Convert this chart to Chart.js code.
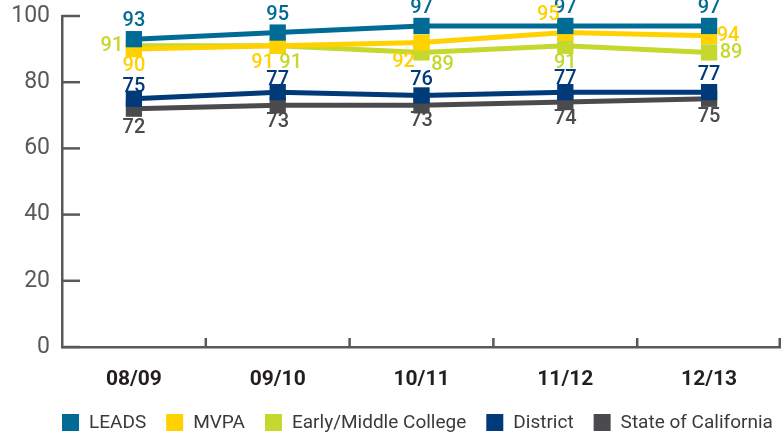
<!DOCTYPE html>
<html><head><meta charset="utf-8">
<script src="https://cdn.jsdelivr.net/npm/chart.js@4/dist/chart.umd.min.js"></script>
<style>html,body{margin:0;padding:0;background:#fff;}#wrap{width:781px;height:436px;}</style>
</head><body><div id="wrap"><canvas id="c" width="781" height="436"></canvas></div>
<script>
const categories = ['08/09', '09/10', '10/11', '11/12', '12/13'];
const seriesNames = ['LEADS', 'MVPA', 'Early/Middle College', 'District', 'State of California'];
const leads = [93, 95, 97, 97, 97];
const mvpa = [90, 91, 92, 95, 94];
const earlyMiddle = [91, 91, 89, 91, 89];
const district = [75, 77, 76, 77, 77];
const stateCA = [72, 73, 73, 74, 75];
const yTickValues = [0, 20, 40, 60, 80, 100];

const seriesColors = ['#006b94', '#ffd100', '#c4d82e', '#003a78', '#4b4b4d'];
// label placement (pixel offsets from each point), styling only
const labelOffsets = [
  [[0,-18],[0,-18],[0,-18],[0,-18],[0,-18]],
  [[0,17],[-15,17],[-18,20],[-17,-18],[19,0]],
  [[-22,0],[13,17],[21,13],[0,17],[22,1]],
  [[0,-12],[0,-12],[0,-15],[0,-13],[0,-17]],
  [[0,19],[0,17],[0,16],[0,17],[0,18]]
];
const FONT = "Roboto, 'Liberation Sans', sans-serif";
const axisColor = '#58595b';

const seriesValues = [leads, mvpa, earlyMiddle, district, stateCA];

const decorPlugin = {
  id: 'decor',
  beforeDatasetsDraw(chart) {
    const {ctx, chartArea, scales} = chart;
    ctx.save();
    ctx.strokeStyle = axisColor;
    ctx.lineWidth = 2.5;
    yTickValues.forEach(v => {
      const y = scales.y.getPixelForValue(v);
      ctx.beginPath();
      ctx.moveTo(chartArea.left, y);
      ctx.lineTo(chartArea.left + 18, y);
      ctx.stroke();
    });
    const n = categories.length;
    const step = scales.x.getPixelForValue(1) - scales.x.getPixelForValue(0);
    for (let i = 1; i <= n; i++) {
      const x = scales.x.getPixelForValue(i - 1) + step / 2;
      const xx = Math.min(x, chart.width - 1.25);
      ctx.beginPath();
      ctx.moveTo(xx, chartArea.bottom);
      ctx.lineTo(xx, chartArea.bottom - 9);
      ctx.stroke();
    }
    ctx.restore();
  },
  afterDatasetsDraw(chart) {
    const {ctx} = chart;
    ctx.save();
    ctx.font = '500 20px ' + FONT;
    ctx.textAlign = 'center';
    ctx.textBaseline = 'middle';
    chart.data.datasets.forEach((ds, di) => {
      const meta = chart.getDatasetMeta(di);
      ctx.fillStyle = ds.borderColor;
      meta.data.forEach((pt, i) => {
        const off = labelOffsets[di][i];
        ctx.fillText(String(ds.data[i]), pt.x + off[0], pt.y + off[1]);
      });
    });
    ctx.restore();
  },
  afterDraw(chart) {
    const {ctx} = chart;
    ctx.save();
    ctx.font = '19px ' + FONT;
    ctx.textBaseline = 'middle';
    ctx.textAlign = 'left';
    let x = chart.chartArea.left;
    const y = 422.5;
    chart.data.datasets.forEach(ds => {
      ctx.fillStyle = ds.borderColor;
      ctx.fillRect(x, y - 8.5, 17, 17);
      ctx.fillStyle = '#3a3a3c';
      ctx.fillText(ds.label, x + 27, y + 1);
      x += 27 + ctx.measureText(ds.label).width + 20;
    });
    ctx.restore();
  }
};

new Chart(document.getElementById('c'), {
  type: 'line',
  data: {
    labels: categories,
    datasets: seriesNames.map((name, i) => ({
      label: name,
      data: seriesValues[i],
      borderColor: seriesColors[i],
      backgroundColor: seriesColors[i],
      borderWidth: 5,
      pointStyle: 'rect',
      pointRadius: 11.5,
      pointHoverRadius: 11.5,
      pointBorderWidth: 0,
      tension: 0,
      clip: false
    }))
  },
  options: {
    responsive: false,
    devicePixelRatio: 1,
    animation: false,
    events: [],
    layout: {autoPadding: false, padding: {top: 16, right: 0, left: 0, bottom: 0}},
    plugins: {legend: {display: false}, tooltip: {enabled: false}},
    scales: {
      x: {
        offset: true,
        grid: {display: true, drawOnChartArea: false, drawTicks: false},
        border: {display: true, color: axisColor, width: 2.5},
        ticks: {padding: 20, color: '#231f20', font: {family: FONT, size: 21, weight: 'bold'}},
        afterFit(s) { s.height = 89; s.paddingLeft = 0; s.paddingRight = 0; }
      },
      y: {
        min: 0, max: 100,
        grid: {display: true, drawOnChartArea: false, drawTicks: false},
        border: {display: true, color: axisColor, width: 2.5},
        afterBuildTicks(s) { s.ticks = yTickValues.map(v => ({value: v})); },
        ticks: {padding: 12, color: axisColor, font: {family: FONT, size: 23}},
        afterFit(s) { s.width = 62; s.paddingTop = 0; s.paddingBottom = 0; }
      }
    }
  },
  plugins: [decorPlugin]
});
</script>
</body></html>
